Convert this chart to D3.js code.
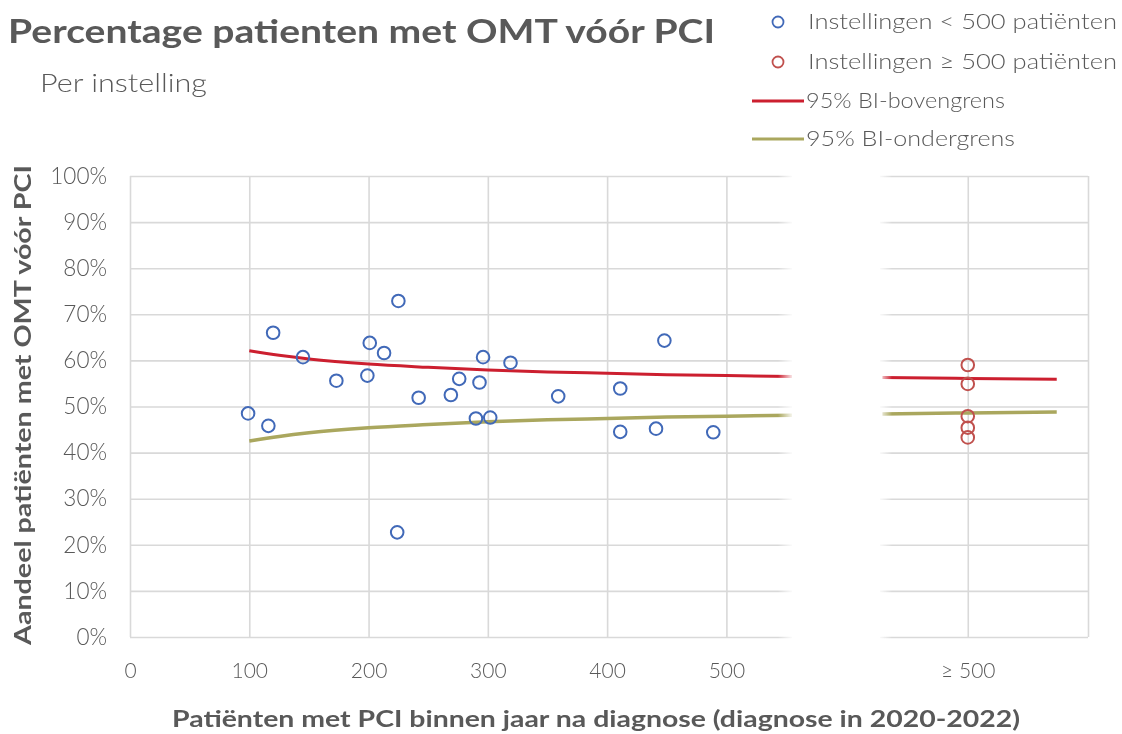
<!DOCTYPE html>
<html>
<head>
<meta charset="utf-8">
<script src="https://cdn.jsdelivr.net/npm/d3@7"></script>
<style>
  body { margin: 0; background: #fff; }
  text { font-family: 'Century Gothic', Lato, 'DejaVu Sans', sans-serif; fill: #595959; }
</style>
</head>
<body>
<div id="chart"></div>
<script>
// Instellingen < 500 patienten: aantal patienten en percentage met OMT
var smallN = [99, 116, 120, 145, 173, 199, 201, 213, 225, 224, 242, 269, 276, 290, 293, 296, 302, 319, 359, 411, 411, 441, 448, 489];
var smallPct = [48.5, 45.8, 66.0, 60.7, 55.6, 56.7, 63.8, 61.6, 72.9, 22.7, 51.9, 52.5, 56.0, 47.4, 55.2, 60.7, 47.6, 59.5, 52.2, 53.9, 44.5, 45.2, 64.3, 44.4];
// Instellingen >= 500 patienten (op positie "≥ 500")
var largePct = [59.0, 54.9, 47.9, 45.4, 43.3];
var largePos = 700;

// 95% betrouwbaarheidsgrenzen
var ciN = [100, 125, 150, 200, 250, 300, 350, 400, 450, 500, 555];
var ciUpper = [62.1, 61.1, 60.3, 59.2, 58.5, 57.9, 57.5, 57.2, 56.9, 56.7, 56.5];
var ciLower = [42.5, 43.5, 44.3, 45.4, 46.1, 46.7, 47.1, 47.4, 47.7, 47.9, 48.1];
var ciNRight = [629, 700, 774];
var ciUpperRight = [56.3, 56.1, 55.9];
var ciLowerRight = [48.4, 48.6, 48.8];

var xTicksLeft = [0, 100, 200, 300, 400, 500];
var xTicksRight = [700, 800];
var yTicks = [0, 10, 20, 30, 40, 50, 60, 70, 80, 90, 100];

var chartWidth = 1122;
var chartHeight = 734;
var blue = '#4169b8';
var red = '#c0504d';
var upperColor = '#cc1f2f';
var lowerColor = '#aaa75e';
var gridColor = '#d9d9d9';

var svg = d3.select('#chart')
    .append('svg')
    .attr('width', chartWidth)
    .attr('height', chartHeight);

// Scales
var xLeft = d3.scaleLinear().domain([0, 555]).range([130, 792]);
var xRight = d3.scaleLinear().domain([627, 800]).range([880, 1088]);
var y = d3.scaleLinear().domain([0, 100]).range([637, 176]);

// Fade at the broken axis
var defs = svg.append('defs');
var grad = defs.append('linearGradient')
    .attr('id', 'fade')
    .attr('gradientUnits', 'userSpaceOnUse')
    .attr('x1', 0).attr('x2', chartWidth)
    .attr('y1', 0).attr('y2', 0);
[[0, 'white'], [778, 'white'], [794, 'black'], [878, 'black'], [892, 'white'], [chartWidth, 'white']]
    .forEach(function(s) {
      grad.append('stop')
          .attr('offset', s[0] / chartWidth)
          .attr('stop-color', s[1]);
    });
defs.append('mask')
    .attr('id', 'fadeMask')
    .attr('maskUnits', 'userSpaceOnUse')
    .attr('x', 0).attr('y', 0)
    .attr('width', chartWidth).attr('height', chartHeight)
    .append('rect')
    .attr('width', chartWidth)
    .attr('height', chartHeight)
    .attr('fill', 'url(#fade)');

var plot = svg.append('g').attr('mask', 'url(#fadeMask)');

// Horizontal gridlines + y labels
var axisYLeft = d3.axisLeft(y)
    .tickValues(yTicks)
    .tickSize(-(xLeft.range()[1] - xLeft.range()[0]))
    .tickPadding(23)
    .tickFormat(function(d) { return d + '%'; });
plot.append('g')
    .attr('class', 'axisY')
    .attr('transform', 'translate(' + xLeft.range()[0] + ',0)')
    .call(axisYLeft);

var axisYRight = d3.axisLeft(y)
    .tickValues(yTicks)
    .tickSize(-(xRight.range()[1] - xRight.range()[0]))
    .tickFormat('');
plot.append('g')
    .attr('class', 'axisY')
    .attr('transform', 'translate(' + xRight.range()[0] + ',0)')
    .call(axisYRight);

// Vertical gridlines + x labels
var axisXLeft = d3.axisBottom(xLeft)
    .tickValues(xTicksLeft)
    .tickSize(-(y.range()[0] - y.range()[1]))
    .tickPadding(26)
    .tickFormat(d3.format('d'));
plot.append('g')
    .attr('class', 'axisX')
    .attr('transform', 'translate(0,' + y.range()[0] + ')')
    .call(axisXLeft);

var axisXRight = d3.axisBottom(xRight)
    .tickValues(xTicksRight)
    .tickSize(-(y.range()[0] - y.range()[1]))
    .tickPadding(26)
    .tickFormat(function(d) { return d === largePos ? '\u2265 500' : ''; });
plot.append('g')
    .attr('class', 'axisX')
    .attr('transform', 'translate(0,' + y.range()[0] + ')')
    .call(axisXRight);

svg.selectAll('.axisX .domain, .axisY .domain').remove();
svg.selectAll('.axisX line, .axisY line')
    .attr('stroke', gridColor)
    .attr('stroke-width', 1.6);
svg.selectAll('.axisY text')
    .attr('font-size', 22.5)
    .attr('fill', '#606060')
    .style('font-family', "Lato, 'DejaVu Sans', sans-serif")
    .style('font-weight', 300);
svg.selectAll('.axisX text')
    .attr('font-size', 21)
    .attr('fill', '#606060')
    .style('font-family', "Lato, 'DejaVu Sans', sans-serif")
    .style('font-weight', 300);

// CI lines
var lineLeft = d3.line()
    .x(function(d) { return xLeft(d[0]); })
    .y(function(d) { return y(d[1]); })
    .curve(d3.curveMonotoneX);
var lineRight = d3.line()
    .x(function(d) { return xRight(d[0]); })
    .y(function(d) { return y(d[1]); })
    .curve(d3.curveMonotoneX);

plot.append('path')
    .datum(d3.zip(ciN, ciLower))
    .attr('d', lineLeft)
    .attr('fill', 'none')
    .attr('stroke', lowerColor)
    .attr('stroke-width', 3.5);
plot.append('path')
    .datum(d3.zip(ciN, ciUpper))
    .attr('d', lineLeft)
    .attr('fill', 'none')
    .attr('stroke', upperColor)
    .attr('stroke-width', 3);
plot.append('path')
    .datum(d3.zip(ciNRight, ciLowerRight))
    .attr('d', lineRight)
    .attr('fill', 'none')
    .attr('stroke', lowerColor)
    .attr('stroke-width', 3.5);
plot.append('path')
    .datum(d3.zip(ciNRight, ciUpperRight))
    .attr('d', lineRight)
    .attr('fill', 'none')
    .attr('stroke', upperColor)
    .attr('stroke-width', 3);

// Points
svg.append('g').selectAll('circle')
    .data(d3.zip(smallN, smallPct))
    .enter()
    .append('circle')
    .attr('cx', function(d) { return xLeft(d[0]); })
    .attr('cy', function(d) { return y(d[1]); })
    .attr('r', 6.3)
    .attr('fill', 'none')
    .attr('stroke', blue)
    .attr('stroke-width', 2);

svg.append('g').selectAll('circle')
    .data(largePct)
    .enter()
    .append('circle')
    .attr('cx', xRight(largePos))
    .attr('cy', function(d) { return y(d); })
    .attr('r', 6.3)
    .attr('fill', 'none')
    .attr('stroke', red)
    .attr('stroke-width', 2);

// Titles
svg.append('text')
    .text('Percentage patienten met OMT vóór PCI')
    .attr('x', 8)
    .attr('y', 43)
    .attr('font-size', 33)
    .attr('font-weight', 'bold')
    .attr('textLength', 707)
    .attr('lengthAdjust', 'spacingAndGlyphs');

svg.append('text')
    .text('Per instelling')
    .attr('x', 40)
    .attr('y', 92)
    .attr('font-size', 25)
    .attr('font-weight', 300)
    .attr('textLength', 167)
    .attr('lengthAdjust', 'spacingAndGlyphs');

svg.append('text')
    .text('Aandeel patiënten met OMT vóór PCI')
    .attr('transform', 'translate(31,405) rotate(-90)')
    .attr('text-anchor', 'middle')
    .attr('font-size', 23)
    .attr('font-weight', 'bold')
    .attr('textLength', 480)
    .attr('lengthAdjust', 'spacingAndGlyphs');

svg.append('text')
    .text('Patiënten met PCI binnen jaar na diagnose (diagnose in 2020-2022)')
    .attr('x', 596)
    .attr('y', 727)
    .attr('text-anchor', 'middle')
    .attr('font-size', 23)
    .attr('font-weight', 'bold')
    .attr('textLength', 848)
    .attr('lengthAdjust', 'spacingAndGlyphs');

// Legend
var legend = svg.append('g').attr('class', 'legend');
var legendItems = [
  {label: 'Instellingen < 500 patiënten', type: 'circle', color: blue, y: 22, width: 309},
  {label: 'Instellingen \u2265 500 patiënten', type: 'circle', color: red, y: 62, width: 309},
  {label: '95% BI-bovengrens', type: 'line', color: upperColor, y: 101, width: 199},
  {label: '95% BI-ondergrens', type: 'line', color: lowerColor, y: 139, width: 209}
];
legendItems.forEach(function(d) {
  if (d.type === 'circle') {
    legend.append('circle')
        .attr('cx', 778)
        .attr('cy', d.y)
        .attr('r', 5.5)
        .attr('fill', 'none')
        .attr('stroke', d.color)
        .attr('stroke-width', 1.8);
    legend.append('text')
        .text(d.label)
        .attr('x', 808)
        .attr('y', d.y + 7)
        .attr('font-size', 21)
        .attr('font-weight', 300)
        .attr('textLength', d.width)
        .attr('lengthAdjust', 'spacingAndGlyphs');
  } else {
    legend.append('line')
        .attr('x1', 752)
        .attr('x2', 804)
        .attr('y1', d.y)
        .attr('y2', d.y)
        .attr('stroke', d.color)
        .attr('stroke-width', 3);
    legend.append('text')
        .text(d.label)
        .attr('x', 806)
        .attr('y', d.y + 7)
        .attr('font-size', 21)
        .attr('font-weight', 300)
        .attr('textLength', d.width)
        .attr('lengthAdjust', 'spacingAndGlyphs');
  }
});
</script>
</body>
</html>
